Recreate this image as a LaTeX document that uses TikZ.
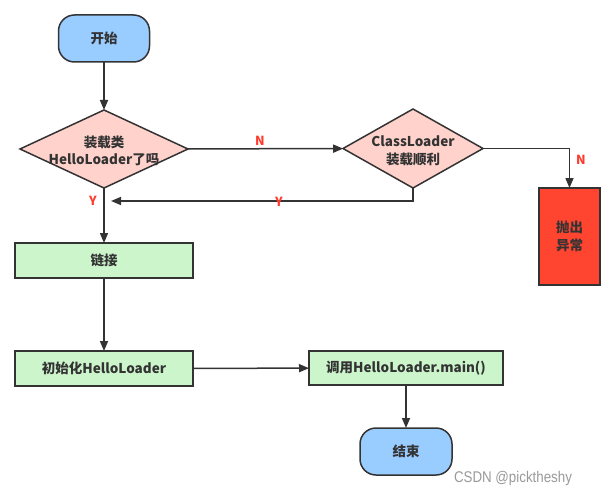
\documentclass[tikz,border=0pt]{standalone}
\usepackage{fontspec}
\setmainfont{Noto Sans CJK SC}
\newfontfamily\wmfont{Liberation Sans}
\usetikzlibrary{shapes.geometric,arrows.meta}
\definecolor{lineC}{HTML}{333333}
\definecolor{blueF}{HTML}{99CCFF}
\definecolor{pinkF}{HTML}{FFD3CC}
\definecolor{greenF}{HTML}{CCF5CC}
\definecolor{redF}{HTML}{FF4530}
\definecolor{labC}{HTML}{FF3B2F}
\definecolor{wmC}{HTML}{9A9A9A}
\tikzset{
  base/.style={draw=lineC, line width=1.5pt, text=lineC, inner sep=0pt, outer sep=0pt,
    font=\fontsize{13.5}{17.5}\selectfont\bfseries, align=center},
  term/.style={base, fill=blueF, rounded corners=16pt},
  procbox/.style={base, fill=greenF, minimum width=178pt, minimum height=35pt},
  decide/.style={base, diamond, fill=pinkF},
  dtext/.style={text=lineC, inner sep=0pt, font=\fontsize{13.5}{17.5}\selectfont\bfseries, align=center},
  conn/.style={draw=lineC, line width=1.5pt, -{Triangle[length=10pt,width=8pt]}},
  yn/.style={text=labC, inner sep=0pt, font=\fontsize{12.5}{14}\selectfont\bfseries},
}
\begin{document}
\begin{tikzpicture}[x=1pt,y=-1pt]
\useasboundingbox (0,0) rectangle (605,495);
\fill[white] (0,0) rectangle (605,495);
% nodes
\node[term, minimum width=91pt, minimum height=47pt] (start) at (104,38.5) {开始};
\node[decide, minimum width=168pt, minimum height=78pt] (d1) at (104,149) {};
\node[dtext] (d1t) at (104,151) {装载类\\HelloLoader了吗};
\node[decide, minimum width=140pt, minimum height=79pt] (d2) at (413,148.5) {};
\node[dtext] (d2t) at (413,151) {ClassLoader\\装载顺利};
\node[base, fill=redF, minimum width=61pt, minimum height=97pt] (exc) at (569.5,236.5) {抛出\\异常};
\node[procbox] (link) at (104,260.5) {链接};
\node[procbox] (init) at (104,368.5) {初始化HelloLoader};
\node[procbox, minimum width=194pt, minimum height=34pt] (call) at (406,368) {调用HelloLoader.main()};
\node[term, minimum width=92pt, minimum height=47pt] (end) at (406,451.5) {结束};
\coordinate (ret) at (111,201);
% connectors
\draw[conn] (start) -- (d1);
\draw[conn] (d1) -- (d2);
\draw[conn] (d2.south) |- (ret);
\draw[conn] (d1) -- (link);
\draw[conn] (link) -- (init);
\draw[conn] (init) -- (call);
\draw[conn] (call) -- (end);
\draw[conn] (d2.east) -| (exc.north);
% labels
\node[yn] (n1) at (260,141) {N};
\node[yn] (y1) at (279,202) {Y};
\node[yn] (y2) at (93,201) {Y};
\node[yn] (n2) at (581,160) {N};
% watermark
\node[text=wmC, inner sep=0pt, xscale=0.86, font=\wmfont\fontsize{15.5}{17}\selectfont] (wm) at (513,478) {CSDN @picktheshy};
\end{tikzpicture}
\end{document}
